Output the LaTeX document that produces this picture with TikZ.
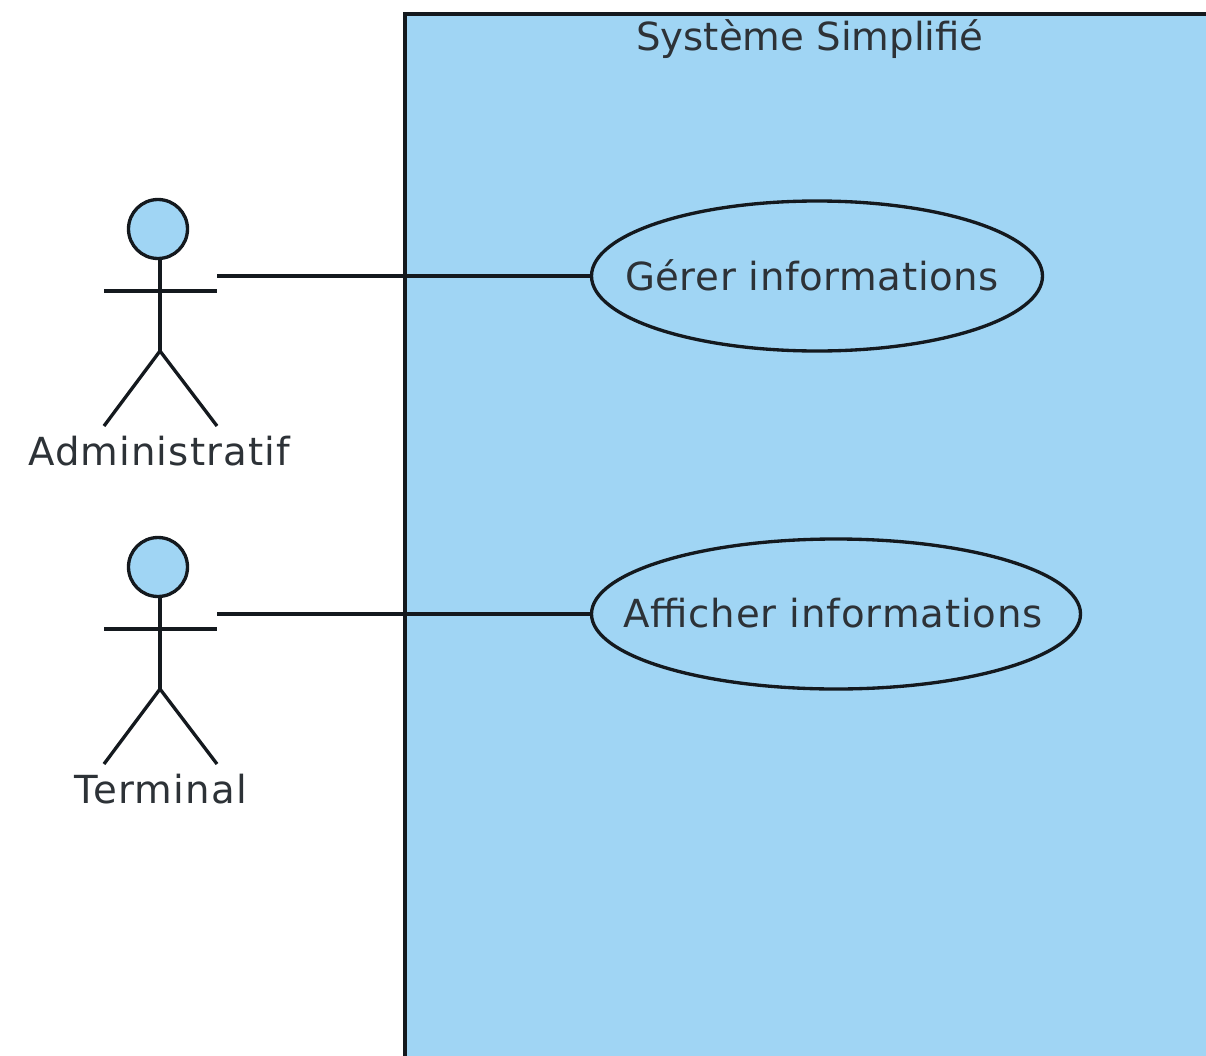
\documentclass[tikz,border=0pt]{standalone}
\usepackage{fontspec}
\setmainfont{DejaVu Sans}
\usetikzlibrary{shapes.geometric}
\definecolor{umlblue}{RGB}{160,213,244}
\definecolor{ink}{RGB}{20,25,30}
\definecolor{labelink}{RGB}{45,50,55}
\tikzset{
  x=0.75pt,y=-0.75pt,
  linework/.style={draw=ink,line width=2.5pt},
  usecase/.style={ellipse,linework,fill=umlblue,inner sep=0pt,minimum height=150*0.75pt},
  label/.style={inner sep=0pt,text=labelink,font=\fontsize{29pt}{34pt}\selectfont},
  head/.style={circle,linework,fill=umlblue,inner sep=0pt,minimum size=59*0.75pt}
}
\begin{document}
\begin{tikzpicture}
\useasboundingbox (0,0) rectangle (1206,1056);
\fill[white] (0,0) rectangle (1206,1056);
\draw[linework,fill=umlblue] (405,1060) -- (405,14) -- (1210,14) -- (1210,1060);
\node[label] (title) at (810,39) {Système Simplifié};
% Administratif actor
\coordinate (n1) at (160,258); \coordinate (hip1) at (160,351);
\coordinate (w1l) at (104,291); \coordinate (w1r) at (217,291);
\coordinate (f1l) at (104,426); \coordinate (f1r) at (217,426);
\draw[linework] (n1) -- (hip1);
\draw[linework] (w1l) -- (w1r);
\draw[linework] (f1l) -- (hip1) -- (f1r);
\node[head] (h1) at (158,229) {};
\node[label] (a1) at (159,451) {\addfontfeature{LetterSpace=2.8}Administratif};
% Terminal actor
\coordinate (n2) at (160,596); \coordinate (hip2) at (160,689);
\coordinate (w2l) at (104,629); \coordinate (w2r) at (217,629);
\coordinate (f2l) at (104,764); \coordinate (f2r) at (217,764);
\draw[linework] (n2) -- (hip2);
\draw[linework] (w2l) -- (w2r);
\draw[linework] (f2l) -- (hip2) -- (f2r);
\node[head] (h2) at (158,567) {};
\node[label] (a2) at (161,789) {\addfontfeature{LetterSpace=3.5}Terminal};
% Use cases
\coordinate (s1) at (217,276); \coordinate (s2) at (217,614);
\node[usecase,minimum width=451*0.75pt] (u1) at (817,276) {};
\node[label] (t1) at (812,275) {\addfontfeature{LetterSpace=1.6}Gérer informations};
\node[usecase,minimum width=489*0.75pt] (u2) at (836,614) {};
\node[label] (t2) at (833,613) {\addfontfeature{LetterSpace=2.3}Afficher informations};
\draw[linework] (s1) -- (u1.west);
\draw[linework] (s2) -- (u2.west);
\end{tikzpicture}
\end{document}
